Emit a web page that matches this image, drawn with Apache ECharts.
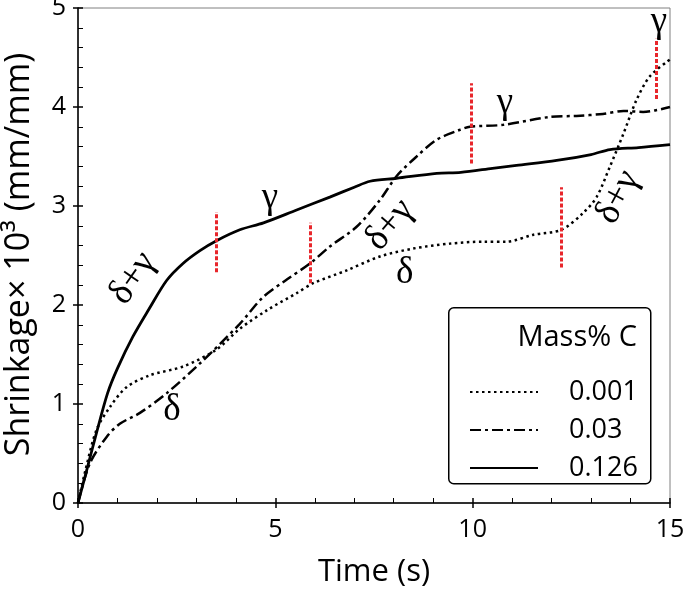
<!DOCTYPE html>
<html>
<head>
<meta charset="utf-8">
<script src="https://cdn.jsdelivr.net/npm/echarts@6/dist/echarts.min.js"></script>
<style>
  html, body { margin: 0; padding: 0; background: #fff; }
</style>
</head>
<body>
<div id="myChart" style="width: 685px;height:592px;"></div>
<script>
// 数据: time (s) / shrinkage x 10^3 (mm/mm)
var seriesNames = ['0.001', '0.03', '0.126'];

var timeC001 = [0, 0.2, 0.47, 0.81, 1.23, 1.82, 2.67, 3.51, 4.1, 4.8, 5.54, 5.96, 6.81, 7.65, 8.49, 9.42, 10.27, 10.86, 11.54, 12.25, 12.8, 13.14, 13.48, 13.82, 14.15, 14.49, 15];
var shrinkC001 = [0, 0.35, 0.74, 0.97, 1.17, 1.29, 1.38, 1.55, 1.76, 1.95, 2.12, 2.22, 2.35, 2.49, 2.57, 2.62, 2.64, 2.64, 2.71, 2.76, 2.93, 3.09, 3.40, 3.73, 4.07, 4.31, 4.48];

var timeC03 = [0, 0.3, 0.73, 1.06, 1.57, 2.25, 3.09, 4.1, 4.69, 5.3, 5.88, 6.38, 7.06, 7.65, 8.07, 8.58, 9.09, 9.68, 9.93, 10.78, 11.96, 12.63, 13.3, 13.82, 14.32, 15];
var shrinkC03 = [0, 0.40, 0.67, 0.80, 0.91, 1.11, 1.41, 1.81, 2.08, 2.26, 2.42, 2.59, 2.79, 3.06, 3.30, 3.50, 3.67, 3.77, 3.80, 3.82, 3.90, 3.91, 3.93, 3.96, 3.95, 4.0];

var timeC126 = [0, 0.2, 0.47, 0.75, 1.0, 1.39, 1.8, 2.25, 2.66, 3.09, 3.51, 4.1, 4.7, 5.54, 6.38, 7.0, 7.4, 8.07, 9.09, 9.7, 10.5, 11.11, 12.13, 13.0, 13.48, 14.2, 15];
var shrinkC126 = [0, 0.3, 0.71, 1.11, 1.36, 1.68, 1.96, 2.25, 2.42, 2.55, 2.65, 2.76, 2.83, 2.96, 3.09, 3.19, 3.25, 3.28, 3.33, 3.34, 3.38, 3.41, 3.46, 3.52, 3.57, 3.59, 3.62];

// 红色虚线 (相变位置)
var markerTime = [3.5, 5.88, 9.96, 12.25, 14.66];
var markerLow = [2.33, 2.22, 3.43, 2.38, 4.08];
var markerHigh = [2.94, 2.83, 4.24, 3.19, 4.69];

// 相标注
var phaseText = ['δ+γ', 'γ', 'δ', 'δ+γ', 'δ', 'γ', 'δ+γ', 'γ'];
var phaseTime = [1.39, 4.86, 2.38, 7.9, 8.28, 10.82, 13.68, 14.72];
var phaseValue = [2.27, 3.08, 0.94, 2.81, 2.32, 4.04, 3.09, 4.86];
var phaseAngle = [55, 0, 0, 50, 0, 0, 62, 0];

var xTicks = [0, 5, 10, 15];
var yTicks = [0, 1, 2, 3, 4, 5];

function pairs(xs, ys) {
  var out = [];
  for (var i = 0; i < xs.length; i++) out.push([xs[i], ys[i]]);
  return out;
}

var markerData = [];
for (var i = 0; i < markerTime.length; i++) {
  markerData.push([{ coord: [markerTime[i], markerLow[i]] }, { coord: [markerTime[i], markerHigh[i]] }]);
}

var axisFont = 'Open Sans';

var myChart = echarts.init(document.getElementById('myChart'));
myChart.setOption({
  backgroundColor: '#fff',
  animation: false,
  grid: {
    left: 78, right: 15, top: 8, bottom: 89,
    outerBoundsMode: 'none', containLabel: false,
    show: true, borderColor: '#808080', borderWidth: 1
  },
  legend: {
    orient: 'vertical',
    left: 464, top: 373,
    itemWidth: 68, itemHeight: 20, itemGap: 10,
    data: seriesNames,
    itemStyle: { opacity: 0 },
    textStyle: { fontFamily: axisFont, fontSize: 27, color: '#000', padding: [0, 0, 0, 26], lineHeight: 28 }
  },
  xAxis: [{
    type: 'value', min: 0, max: 15, interval: 5,
    name: 'Time (s)', nameLocation: 'middle', nameGap: 54,
    nameTextStyle: { fontFamily: axisFont, fontSize: 31, color: '#000' },
    axisLine: { lineStyle: { color: '#000', width: 1.5 } },
    axisTick: { inside: true, length: 5, lineStyle: { color: '#000', width: 1.5 } },
    minorTick: { show: true, splitNumber: 5, length: 5, lineStyle: { color: '#000', width: 1 } },
    axisLabel: { fontFamily: axisFont, fontSize: 25, color: '#000', margin: 14,
      formatter: function (v) { return xTicks.indexOf(v) >= 0 ? String(v) : ''; } },
    splitLine: { show: false }
  }, {
    type: 'value', min: 0, max: 15, interval: 5, position: 'bottom',
    axisLine: { show: false },
    axisTick: { inside: false, length: 5, lineStyle: { color: '#000', width: 1.5 } },
    axisLabel: { show: false }, splitLine: { show: false }
  }],
  yAxis: [{
    type: 'value', min: 0, max: 5, interval: 1,
    name: 'Shrinkage× 10³ (mm/mm)', nameLocation: 'middle', nameGap: 42,
    nameTextStyle: { fontFamily: axisFont, fontSize: 34, color: '#000', padding: [0, 0, 0, 2] },
    axisLine: { show: true, lineStyle: { color: '#000', width: 1.5 } },
    axisTick: { show: true, inside: true, length: 5, lineStyle: { color: '#000', width: 1.5 } },
    minorTick: { show: true, splitNumber: 5, length: 5, lineStyle: { color: '#000', width: 1 } },
    axisLabel: { fontFamily: axisFont, fontSize: 25, color: '#000', margin: 12,
      formatter: function (v) { return yTicks.indexOf(v) >= 0 ? String(v) : ''; } },
    splitLine: { show: false }
  }, {
    type: 'value', min: 0, max: 5, interval: 1, position: 'left',
    axisLine: { show: false },
    axisTick: { show: true, inside: false, length: 5, lineStyle: { color: '#000', width: 1.5 } },
    axisLabel: { show: false }, splitLine: { show: false }
  }],
  series: [{
    name: seriesNames[0], type: 'line', symbol: 'none', smooth: 0.3,
    data: pairs(timeC001, shrinkC001),
    lineStyle: { color: '#000', width: 2.5, type: [2.5, 3.5] },
    itemStyle: { color: '#000' }
  }, {
    name: seriesNames[1], type: 'line', symbol: 'none', smooth: 0.3,
    data: pairs(timeC03, shrinkC03),
    lineStyle: { color: '#000', width: 2.5, type: [11, 4, 3, 4] },
    itemStyle: { color: '#000' }
  }, {
    name: seriesNames[2], type: 'line', symbol: 'none', smooth: 0.3,
    data: pairs(timeC126, shrinkC126),
    lineStyle: { color: '#000', width: 2.8, type: 'solid' },
    itemStyle: { color: '#000' },
    markLine: {
      silent: true, symbol: ['none', 'none'],
      label: { show: false },
      lineStyle: { color: '#e8262b', width: 3, type: [4, 2] },
      data: markerData
    }
  }]
});

// 图例框 + 标注
var graphics = [{
  type: 'rect', left: 448, top: 307, z: 0,
  shape: { width: 202, height: 176, r: 5 },
  style: { fill: '#fff', stroke: '#000', lineWidth: 1.5 }
}, {
  type: 'text', right: 685 - 637, top: 323, z: 10,
  style: { text: 'Mass% C', fontFamily: axisFont, fontSize: 29, fill: '#000' }
}];
for (var k = 0; k < phaseText.length; k++) {
  var p = myChart.convertToPixel({ gridIndex: 0 }, [phaseTime[k], phaseValue[k]]);
  graphics.push({
    type: 'text', x: p[0], y: p[1], rotation: phaseAngle[k] * Math.PI / 180, z: 20,
    style: { text: phaseText[k], fontFamily: 'Liberation Serif', fontSize: 37, fill: '#000',
      align: 'center', verticalAlign: 'middle' }
  });
}
myChart.setOption({ graphic: graphics });
</script>
</body>
</html>
